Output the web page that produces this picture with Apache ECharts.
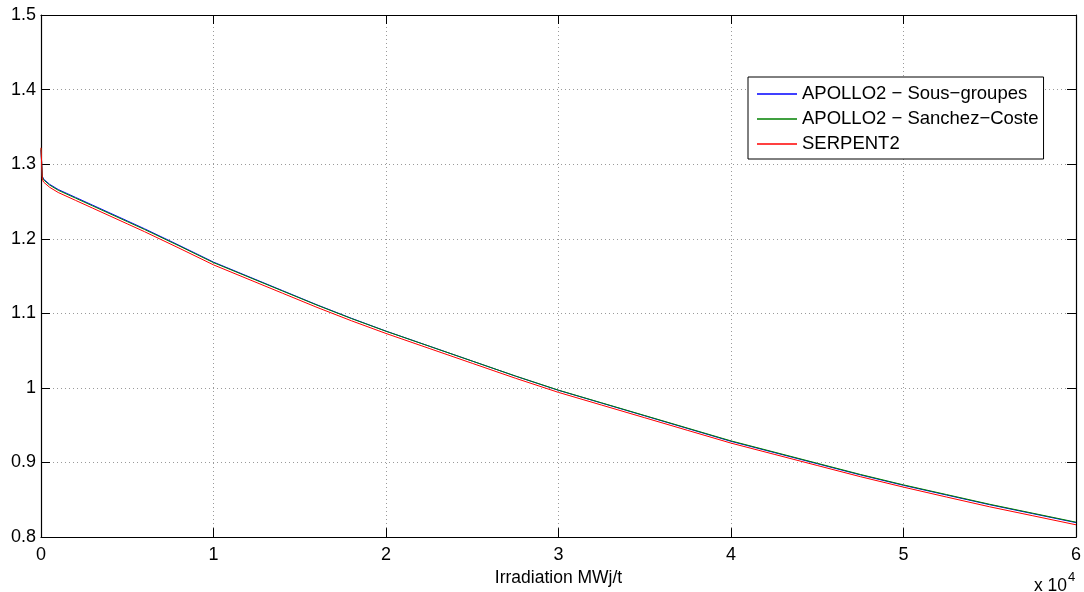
<!DOCTYPE html>
<html>
<head>
<meta charset="utf-8">
<script src="https://cdn.jsdelivr.net/npm/echarts@6/dist/echarts.min.js"></script>
<style>html,body{margin:0;padding:0;background:#fff;}#c{width:1084px;height:592px;}</style>
</head>
<body>
<div id="c"></div>
<script>
// Irradiation (MWj/t)
var burnup = [0, 75, 150, 500, 1000, 2000, 3000, 4000, 5000, 6000, 8000, 10000, 12000, 14000, 16000, 18000, 20000, 22500, 25000, 27500, 30000, 32500, 35000, 37500, 40000, 42500, 45000, 47500, 50000, 52500, 55000, 57500, 60000];
var apolloSG = [1.319, 1.284, 1.280, 1.273, 1.266, 1.2555, 1.245, 1.2345, 1.224, 1.2134, 1.1913, 1.1687, 1.1496, 1.1305, 1.1114, 1.0933, 1.0762, 1.0561, 1.036, 1.0159, 0.9968, 0.9797, 0.9626, 0.9455, 0.9284, 0.9134, 0.8984, 0.8834, 0.8694, 0.8564, 0.8434, 0.8314, 0.8194];
var apolloSC = [1.321, 1.283, 1.279, 1.272, 1.265, 1.2545, 1.244, 1.2335, 1.223, 1.2125, 1.1905, 1.168, 1.149, 1.130, 1.111, 1.093, 1.076, 1.056, 1.036, 1.016, 0.997, 0.980, 0.963, 0.946, 0.929, 0.914, 0.899, 0.884, 0.870, 0.857, 0.844, 0.832, 0.820];
var serpent = [1.322, 1.280, 1.276, 1.269, 1.262, 1.2515, 1.241, 1.2305, 1.220, 1.2095, 1.1875, 1.165, 1.146, 1.127, 1.108, 1.090, 1.073, 1.053, 1.033, 1.013, 0.994, 0.977, 0.960, 0.943, 0.926, 0.911, 0.896, 0.881, 0.867, 0.8537, 0.8406, 0.8286, 0.8165];
var seriesNames = ['APOLLO2 \u2212 Sous\u2212groupes', 'APOLLO2 \u2212 Sanchez\u2212Coste', 'SERPENT2'];
var xAxisTitle = 'Irradiation MWj/t';

function pairs(xs, ys){ return xs.map(function(x,i){ return [x, ys[i]]; }); }

var FONT = '"Liberation Sans", Arial, Helvetica, sans-serif';
var chart = echarts.init(document.getElementById('c'), null, {renderer:'canvas'});
var gridLine = {show:true, lineStyle:{color:'#9a9a9a', type:[1,3], width:1}};
chart.setOption({
  animation:false,
  backgroundColor:'#fff',
  textStyle:{fontFamily:FONT},
  grid:{left:41, right:8, top:15, bottom:54, containLabel:false},
  xAxis:[{
    type:'value', min:0, max:60000, interval:10000, position:'bottom',
    name:xAxisTitle, nameLocation:'middle', nameGap:27,
    nameTextStyle:{fontSize:17.5, color:'#000', fontFamily:FONT},
    axisLine:{show:true, onZero:false, lineStyle:{color:'#000', width:1.2}},
    axisTick:{show:true, inside:true, length:9, lineStyle:{color:'#000'}},
    axisLabel:{fontSize:18, color:'#000', margin:9, fontFamily:FONT, formatter:function(v){return String(v/10000);}},
    splitLine:gridLine
  },{
    type:'value', min:0, max:60000, interval:10000, position:'top',
    axisLine:{show:true, onZero:false, lineStyle:{color:'#000', width:1.2}},
    axisTick:{show:true, inside:true, length:9, lineStyle:{color:'#000'}},
    axisLabel:{show:false}, splitLine:{show:false}
  }],
  yAxis:[{
    type:'value', min:0.8, max:1.5, interval:0.1, position:'left',
    axisLine:{show:true, onZero:false, lineStyle:{color:'#000', width:1.2}},
    axisTick:{show:true, inside:true, length:9, lineStyle:{color:'#000'}},
    axisLabel:{fontSize:18, color:'#000', margin:5, fontFamily:FONT, formatter:function(v){return String(Math.round(v*10)/10);}},
    splitLine:gridLine
  },{
    type:'value', min:0.8, max:1.5, interval:0.1, position:'right',
    axisLine:{show:true, onZero:false, lineStyle:{color:'#000', width:1.2}},
    axisTick:{show:true, inside:true, length:9, lineStyle:{color:'#000'}},
    axisLabel:{show:false}, splitLine:{show:false}
  }],
  legend:{
    orient:'vertical', left:748, top:77,
    backgroundColor:'#fff', borderColor:'#000', borderWidth:1,
    padding:[7,5,5,9], itemWidth:40, itemHeight:1.5, itemGap:5, icon:'rect',
    textStyle:{fontSize:18.5, lineHeight:20, color:'#000', fontFamily:FONT},
    data:seriesNames
  },
  graphic:[{
    type:'text', left:1034, top:571,
    style:{text:'{a|x 10}{b|4}', rich:{a:{fontSize:17.5, fontFamily:FONT, fill:'#000', verticalAlign:'bottom'}, b:{fontSize:13, fontFamily:FONT, fill:'#000', padding:[0,0,11,1]}}}
  }],
  series:[
    {name:seriesNames[0], type:'line', symbol:'none', data:pairs(burnup, apolloSG), lineStyle:{color:'#0000ff', width:1}, itemStyle:{color:'#0000ff'}},
    {name:seriesNames[1], type:'line', symbol:'none', data:pairs(burnup, apolloSC), lineStyle:{color:'#008000', width:1}, itemStyle:{color:'#008000'}},
    {name:seriesNames[2], type:'line', symbol:'none', data:pairs(burnup, serpent), lineStyle:{color:'#ff0000', width:1}, itemStyle:{color:'#ff0000'}}
  ]
});
</script>
</body>
</html>
